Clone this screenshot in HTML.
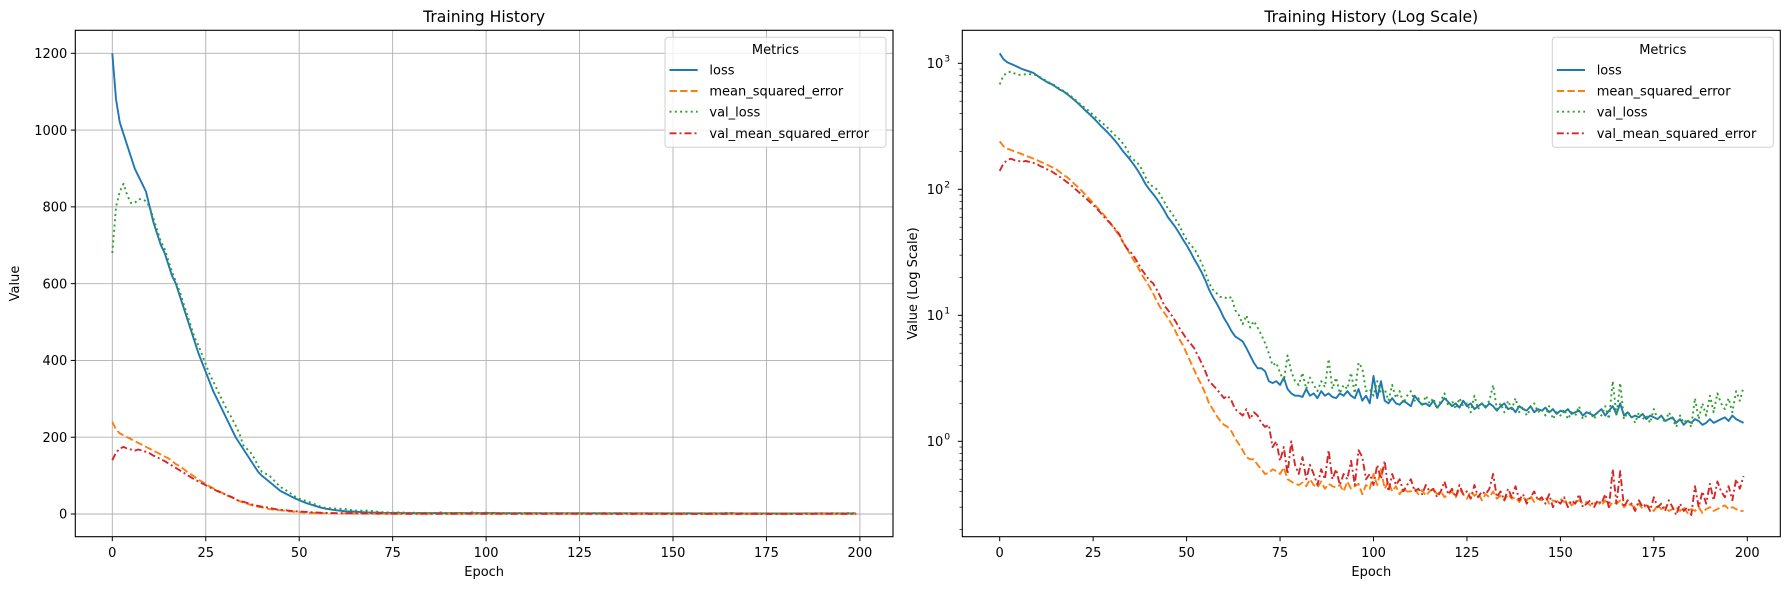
<!DOCTYPE html>
<html><head><meta charset="utf-8"><style>
html,body{margin:0;padding:0;background:#fff;}
svg{display:block;font-family:"DejaVu Sans","Liberation Sans",sans-serif;}
</style></head><body>
<svg id="fig" width="1790" height="590" xmlns="http://www.w3.org/2000/svg"></svg>
<script>
const epochs = Array.from({length:200},(_,i)=>i);
const lossVals = [1200,1080,1020,990,960,930,900,880,860,840,800,760,730,700,680,650,620,600,570,540,510,480,450,420,395,370,345,320,300,280,260,240,220,200,185,170,155,140,125,110,100,92,84,76,68,60,55,50,45,40,36,32,28,25,22,19,16,14,12.5,11,9.5,8.5,7.5,6.8,6.5,6.2,5.5,4.8,4.2,3.8,3.8,3.6,3.0,2.9,3.0,2.8,3.2,2.6,2.4,2.3,
2.3,2.25,2.6,2.3,2.4,2.2,2.5,2.3,2.4,2.25,2.2,2.4,2.3,2.5,2.3,2.2,2.6,2.1,2.3,2.0,
3.3,2.2,3.0,2.1,2.0,2.2,2.0,1.95,2.1,2.0,1.9,2.3,2.1,1.95,2.0,1.9,2.1,1.85,2.0,2.2,
2.05,1.9,2.0,1.85,2.1,1.9,2.0,1.8,1.9,2.0,1.85,2.0,1.9,1.75,1.9,2.0,1.8,1.85,1.7,1.9,
1.8,1.75,1.9,1.7,1.8,1.75,1.85,1.7,1.8,1.65,1.75,1.7,1.8,1.65,1.7,1.75,1.6,1.7,1.65,1.6,
1.7,1.8,1.6,1.75,1.9,1.65,2.0,1.6,1.7,1.55,1.6,1.55,1.65,1.5,1.6,1.55,1.5,1.6,1.45,1.5,
1.55,1.4,1.5,1.35,1.45,1.4,1.5,1.45,1.35,1.4,1.5,1.4,1.45,1.5,1.55,1.45,1.6,1.5,1.45,1.4];
const mseVals = [240,220,210,205,200,195,190,185,180,175,170,165,160,155,150,145,138,130,125,118,110,104,97,90,84,78,72,67,62,57,52,47,43,38,34,30,27,24,21,19,17,15,13,11.5,10.5,9.5,8.5,7.5,6.5,5.8,5,4.3,3.7,3.2,2.8,2.4,2.0,1.8,1.6,1.45,1.35,1.3,1.2,1.05,0.95,0.85,0.75,0.72,0.72,0.65,0.6,0.55,0.56,0.6,0.58,0.55,0.62,0.5,0.48,0.46,
.45,.47,.44,.5,.45,.43,.48,.42,.46,.44,.43,.45,.4,.48,.42,.44,.46,.38,.45,.42,
.55,.45,.6,.42,.48,.4,.44,.38,.42,.4,.4,.42,.38,.41,.37,.4,.42,.38,.4,.36,
.38,.4,.36,.42,.38,.35,.4,.37,.39,.34,.38,.36,.4,.35,.37,.34,.38,.35,.36,.33,
.36,.34,.37,.33,.35,.34,.36,.32,.34,.33,.35,.33,.34,.31,.33,.34,.32,.33,.31,.32,
.33,.31,.34,.3,.33,.32,.34,.3,.32,.31,.3,.32,.29,.31,.3,.28,.31,.29,.3,.28,
.29,.3,.28,.3,.27,.29,.28,.3,.27,.29,.3,.28,.29,.3,.31,.29,.3,.29,.28,.28];
const valLossVals = [680,800,840,860,830,810,810,820,820,815,800,770,740,710,690,660,630,605,580,550,520,490,460,440,415,390,365,345,325,305,285,265,250,230,210,180,170,160,145,125,110,105,100,90,80,70,65,58,52,45,40,36,34,30,26,22,18,16,15,14,14,13.5,14,11,10,8.5,10,8,9,8,7,6,5,4,4.2,3.5,3,4.8,3.6,3,
2.8,3.5,2.6,3.2,2.8,2.5,3.0,2.7,4.5,2.6,3.2,2.4,2.8,2.6,3.5,2.4,4.2,3.8,2.5,2.6,
2.3,3.0,2.4,2.6,2.1,2.8,2.2,2.5,2.0,2.3,2.5,2.1,2.2,1.9,2.3,2.0,2.2,1.8,2.1,2.4,
1.9,2.1,1.8,2.2,1.9,2.0,1.7,2.3,1.8,2.0,1.9,2.1,2.8,1.8,2.0,1.7,2.1,1.8,2.2,1.7,
1.9,1.6,1.8,2.0,1.7,1.8,1.6,1.9,1.5,1.7,1.6,1.8,1.5,1.7,1.6,1.9,1.5,1.6,1.7,1.5,
1.7,1.6,1.9,1.5,3.0,1.6,2.9,1.5,1.7,1.6,1.4,1.7,1.5,1.6,1.4,1.8,1.5,1.6,1.4,1.7,
1.5,1.3,1.6,1.4,1.5,1.3,2.2,1.5,2.0,1.6,2.3,1.7,2.4,2.0,1.8,2.2,1.7,2.5,2.1,2.7];
const valMseVals = [140,160,170,175,170,168,165,168,165,162,158,152,148,142,138,132,126,120,114,108,102,96,90,85,80,75,70,65,60,56,52,48,44,38,34,32,29,26,23,21,19,18,16,14,12,11,10,9,8,7.2,6.5,6,5.5,4.8,4.2,3.6,3,2.8,2.6,2.4,2.2,2.3,2.1,1.8,1.7,1.6,1.8,1.5,1.7,1.6,1.4,1.3,1.35,0.9,1.0,0.7,0.9,0.55,1.0,0.65,
.55,.75,.5,.65,.55,.45,.6,.5,.85,.5,.6,.45,.55,.5,.7,.45,.85,.75,.5,.55,
.45,.65,.5,.7,.4,.55,.45,.5,.4,.45,.5,.4,.42,.38,.45,.4,.42,.36,.4,.48,
.38,.42,.36,.45,.38,.4,.35,.45,.36,.4,.38,.42,.55,.36,.4,.34,.42,.36,.44,.34,
.38,.32,.36,.4,.34,.36,.32,.38,.3,.34,.32,.36,.3,.34,.32,.38,.3,.32,.34,.3,
.34,.32,.38,.3,.6,.32,.58,.3,.34,.32,.28,.34,.3,.32,.28,.36,.3,.32,.28,.34,
.3,.26,.32,.28,.3,.26,.44,.3,.4,.32,.46,.34,.48,.4,.36,.44,.34,.5,.42,.53];
const xTicks = [0,25,50,75,100,125,150,175,200];
const yTicksLin = [0,200,400,600,800,1000,1200];
const yTicksLog = [0,1,2,3];
const seriesNames = ["loss","mean_squared_error","val_loss","val_mean_squared_error"];

const NS="http://www.w3.org/2000/svg";
const svg=document.getElementById('fig');
function el(tag,attrs,parent){const e=document.createElementNS(NS,tag);for(const k in attrs)e.setAttribute(k,attrs[k]);(parent||svg).appendChild(e);return e;}
const styles=[{c:"#1f77b4",d:""},{c:"#ff7f0e",d:"7.4,3.2"},{c:"#2ca02c",d:"2,3.3"},{c:"#d62728",d:"7,3,2,3"}];
const allSeries=[lossVals,mseVals,valLossVals,valMseVals];
const TOP=30.3,BOT=536.7;

function panel(opt){
  const g=el('g',{});
  
  
  const L=opt.left,R=opt.right;
  const xs=v=>opt.x0+(v/200)*(opt.x200-opt.x0);
  const ys=opt.ys;
  if(opt.grid){
    xTicks.forEach(t=>{const l=el('line',{x1:xs(t),x2:xs(t),y1:TOP,y2:BOT,stroke:"#b0b0b0","stroke-width":0.9},g);});
    yTicksLin.forEach(t=>{const l=el('line',{x1:L,x2:R,y1:ys(t),y2:ys(t),stroke:"#b0b0b0","stroke-width":0.9},g);});
  }
  const clip=el('clipPath',{id:'clip'+opt.id},g);el('rect',{x:L,y:TOP,width:R-L,height:BOT-TOP},clip);
  allSeries.forEach((arr,si)=>{
    const pts=arr.map((v,i)=>xs(epochs[i]).toFixed(2)+","+ys(v).toFixed(2)).join(" ");
    const p=el('polyline',{points:pts,fill:"none",stroke:styles[si].c,"stroke-width":1.9,"stroke-dasharray":styles[si].d,"clip-path":"url(#clip"+opt.id+")","stroke-linejoin":"round"},g);
    
    
  });
  const fr=el('rect',{x:L,y:TOP,width:R-L,height:BOT-TOP,fill:"none",stroke:"#000","stroke-width":1.1},g);
  
  xTicks.forEach(t=>{
    el('line',{x1:xs(t),x2:xs(t),y1:BOT,y2:BOT+4.5,stroke:"#000","stroke-width":1},g);
    const tx=el('text',{x:xs(t),y:BOT+20.5,"text-anchor":"middle","font-size":13},g);tx.textContent=t;
    
  });
  const xl=el('text',{x:(L+R)/2,y:576,"text-anchor":"middle","font-size":13},g);xl.textContent="Epoch";
  
  const tt=el('text',{x:(L+R)/2,y:22,"text-anchor":"middle","font-size":15.6},g);tt.textContent=opt.title;
  
  const yl=el('text',{x:0,y:0,"text-anchor":"middle","font-size":13,transform:`translate(${opt.ylx},${(TOP+BOT)/2}) rotate(-90)`},g);yl.textContent=opt.ylabel;
  
  opt.yticks(g,L);
  const lg=el('g',{},g);
  const lx=R-7-221;
  el('rect',{x:lx,y:37.3,width:221,height:110,rx:3,fill:"#fff","fill-opacity":0.8,stroke:"#d0d0d0","stroke-width":1},lg);
  const lt=el('text',{x:lx+110.5,y:54,"text-anchor":"middle","font-size":13},lg);lt.textContent="Metrics";
  
  const rows=[70,91,111.7,133.3];
  seriesNames.forEach((n,i)=>{
    const en=el('g',{},lg);
    el('line',{x1:lx+4.5,x2:lx+32.7,y1:rows[i],y2:rows[i],stroke:styles[i].c,"stroke-width":1.9,"stroke-dasharray":styles[i].d},en);
    const t=el('text',{x:lx+44.4,y:rows[i]+4.7,"font-size":13},en);t.textContent=n;
  });
}

panel({id:1,name:'linear-panel',left:75.3,right:893,x0:112.3,x200:859.9,grid:true,title:"Training History",ylabel:"Value",ylx:19,
  ys:v=>514-v*(514-53.3)/1200,
  yticks:(g,L)=>{yTicksLin.forEach(t=>{const y=514-t*(514-53.3)/1200;
    el('line',{x1:L-4.5,x2:L,y1:y,y2:y,stroke:"#000","stroke-width":1},g);
    const tx=el('text',{x:L-8,y:y+4.7,"text-anchor":"end","font-size":13},g);tx.textContent=t;
    });}
});
const logY=v=>441.3-Math.log10(v)*126;
panel({id:2,name:'log-panel',left:962.3,right:1780.3,x0:999.7,x200:1747.3,grid:false,title:"Training History (Log Scale)",ylabel:"Value (Log Scale)",ylx:917,
  ys:logY,
  yticks:(g,L)=>{
    yTicksLog.forEach(e=>{const y=logY(Math.pow(10,e));
      el('line',{x1:L-4.5,x2:L,y1:y,y2:y,stroke:"#000","stroke-width":1},g);
      const tx=el('text',{x:L-19,y:y+4.7,"text-anchor":"end","font-size":13},g);tx.textContent="10";
      
      const sp=el('text',{x:L-18,y:y-2,"text-anchor":"start","font-size":9.2},g);sp.textContent=e;});
    for(let e=-1;e<=3;e++)for(let m=2;m<=9;m++){const v=m*Math.pow(10,e);const y=logY(v);
      if(y<TOP||y>BOT)continue;el('line',{x1:L-2.8,x2:L,y1:y,y2:y,stroke:"#000","stroke-width":0.7},g);}
  }
});
</script>
</body></html>
